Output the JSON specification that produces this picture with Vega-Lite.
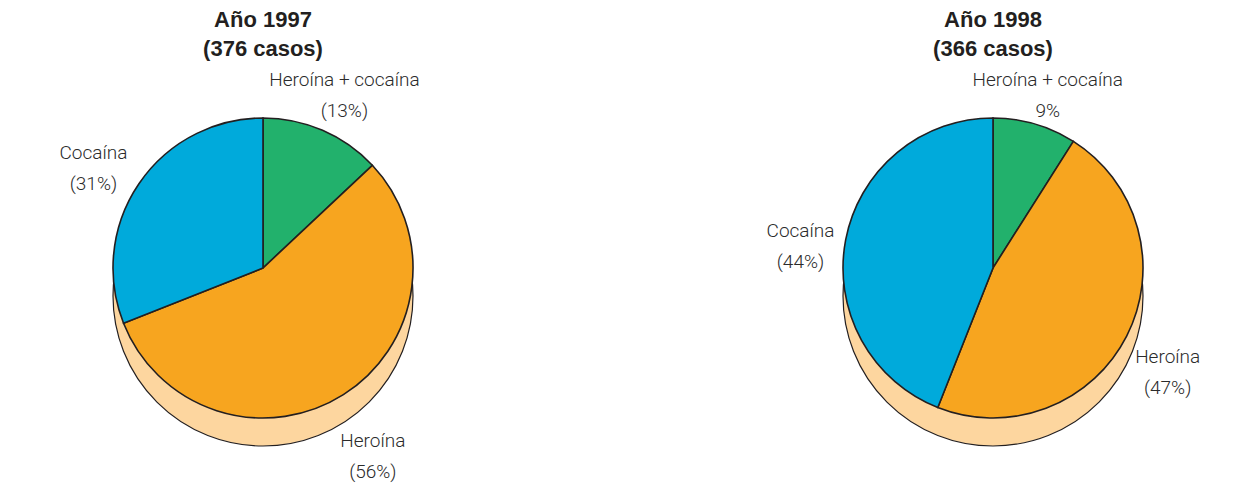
{
  "$schema": "https://vega.github.io/schema/vega-lite/v6.json",
  "padding": {"left": 0, "top": 9, "right": 0, "bottom": 0},
  "background": "white",
  "datasets": {
    "d1997": [
      {"droga": "Heroína + cocaína", "pct": 13, "orden": 1, "etiqueta": "Heroína + cocaína\n(13%)"},
      {"droga": "Heroína", "pct": 56, "orden": 2, "etiqueta": "Heroína\n(56%)"},
      {"droga": "Cocaína", "pct": 31, "orden": 3, "etiqueta": "Cocaína\n(31%)"}
    ],
    "d1998": [
      {"droga": "Heroína + cocaína", "pct": 9, "orden": 1, "etiqueta": "Heroína + cocaína\n9%"},
      {"droga": "Heroína", "pct": 47, "orden": 2, "etiqueta": "Heroína\n(47%)"},
      {"droga": "Cocaína", "pct": 44, "orden": 3, "etiqueta": "Cocaína\n(44%)"}
    ]
  },
  "config": {
    "view": {"stroke": null},
    "title": {"font": "Liberation Sans", "fontSize": 22, "fontWeight": "bold", "color": "#231f20", "anchor": "middle", "frame": "group", "offset": 7, "lineHeight": 29},
    "text": {"font": "Roboto", "fontSize": 19, "fontWeight": 300, "color": "#2b2b2b", "lineBreak": "\n", "lineHeight": 31}
  },
  "spacing": 204,
  "hconcat": [
    {
      "title": {"text": ["Año 1997", "(376 casos)"]},
      "width": 526,
      "height": 400,
      "data": {"name": "d1997"},
      "layer": [
        {
          "transform": [{"aggregate": [{"op": "sum", "field": "pct", "as": "total"}]}],
          "mark": {"type": "arc", "outerRadius": 150, "yOffset": 28, "fill": "#FDD69F", "stroke": "#231f20", "strokeWidth": 1.2},
          "encoding": {"theta": {"field": "total", "type": "quantitative"}}
        },
        {
          "mark": {"type": "arc", "outerRadius": 150, "stroke": "#231f20", "strokeWidth": 1.6},
          "encoding": {
            "theta": {"field": "pct", "type": "quantitative", "stack": true},
            "order": {"field": "orden", "type": "quantitative"},
            "color": {"field": "droga", "type": "nominal", "legend": null,
              "scale": {"domain": ["Heroína + cocaína", "Heroína", "Cocaína"], "range": ["#22B16C", "#F7A51F", "#00AADB"]}}
          }
        },
        {
          "mark": {"type": "text", "radius": 205, "align": "center", "baseline": "middle"},
          "encoding": {
            "theta": {"field": "pct", "type": "quantitative", "stack": true},
            "order": {"field": "orden", "type": "quantitative"},
            "text": {"field": "etiqueta", "type": "nominal"}
          }
        }
      ]
    },
    {
      "title": {"text": ["Año 1998", "(366 casos)"]},
      "width": 526,
      "height": 400,
      "data": {"name": "d1998"},
      "layer": [
        {
          "transform": [{"aggregate": [{"op": "sum", "field": "pct", "as": "total"}]}],
          "mark": {"type": "arc", "outerRadius": 150, "yOffset": 28, "fill": "#FDD69F", "stroke": "#231f20", "strokeWidth": 1.2},
          "encoding": {"theta": {"field": "total", "type": "quantitative"}}
        },
        {
          "mark": {"type": "arc", "outerRadius": 150, "stroke": "#231f20", "strokeWidth": 1.6},
          "encoding": {
            "theta": {"field": "pct", "type": "quantitative", "stack": true},
            "order": {"field": "orden", "type": "quantitative"},
            "color": {"field": "droga", "type": "nominal", "legend": null,
              "scale": {"domain": ["Heroína + cocaína", "Heroína", "Cocaína"], "range": ["#22B16C", "#F7A51F", "#00AADB"]}}
          }
        },
        {
          "mark": {"type": "text", "radius": 196, "align": "center", "baseline": "middle"},
          "encoding": {
            "theta": {"field": "pct", "type": "quantitative", "stack": true},
            "order": {"field": "orden", "type": "quantitative"},
            "text": {"field": "etiqueta", "type": "nominal"}
          }
        }
      ]
    }
  ]
}
